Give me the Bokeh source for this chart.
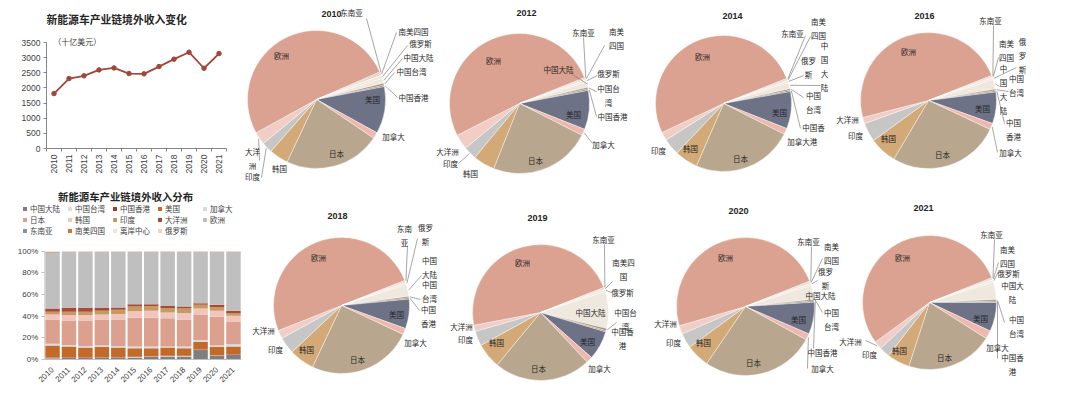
import math
from bokeh.plotting import figure
from bokeh.layouts import row, column
from bokeh.models import (ColumnDataSource, Range1d, FixedTicker, Legend, LegendItem,
                          Label, PrintfTickFormatter)
from bokeh.core.properties import value
from bokeh.embed import file_html
from bokeh.resources import INLINE

CJK = "Noto Sans CJK SC"
NUM = "Liberation Sans"
TXT = "#404040"
DARK = "#262626"

# ---------------- data ----------------
years = ["2010", "2011", "2012", "2013", "2014", "2015", "2016", "2017", "2018", "2019", "2020", "2021"]
revenue = [1815, 2310, 2400, 2595, 2660, 2475, 2465, 2705, 2950, 3180, 2650, 3135]  # 十亿美元

categories = ["中国大陆", "中国台湾", "中国香港", "美国", "加拿大", "日本", "韩国", "印度",
              "大洋洲", "欧洲", "东南亚", "南美四国", "离岸中心", "俄罗斯"]

china_mainland = [1.2, 1.3, 1.3, 1.5, 1.5, 1.8, 2.3, 2.8, 2.8, 8.8, 3.3, 4.3]
china_taiwan = [0.5, 0.4, 0.4, 0.4, 0.4, 0.4, 0.4, 0.4, 0.4, 0.5, 0.4, 0.4]
china_hongkong = [0.3, 0.3, 0.3, 0.3, 0.3, 0.3, 0.3, 0.3, 0.3, 0.3, 0.3, 0.3]
usa = [11.0, 10.0, 9.0, 9.3, 8.8, 8.0, 7.5, 7.5, 7.0, 6.9, 7.5, 7.0]
canada = [1.5, 1.5, 1.5, 1.5, 1.5, 1.5, 1.5, 1.0, 1.5, 1.5, 1.5, 2.0]
japan = [22.5, 22.5, 23.5, 23.5, 24.0, 26.5, 26.5, 26.0, 25.0, 23.0, 26.5, 21.0]
korea = [4.5, 5.0, 5.0, 5.0, 5.5, 6.0, 6.5, 5.5, 6.0, 6.0, 5.5, 5.5]
india = [2.5, 3.0, 3.0, 3.5, 4.0, 4.5, 4.5, 4.0, 4.0, 3.5, 3.5, 2.5]
oceania = [3.0, 3.5, 3.5, 2.5, 2.0, 2.0, 1.5, 2.0, 2.0, 1.5, 2.0, 2.0]
europe = [51.5, 51.5, 51.5, 51.5, 51.0, 48.0, 48.0, 49.5, 50.0, 47.0, 48.5, 54.0]
southeast_asia = [0.4, 0.3, 0.3, 0.3, 0.3, 0.3, 0.3, 0.3, 0.3, 0.3, 0.3, 0.3]
south_america4 = [0.3, 0.2, 0.2, 0.2, 0.2, 0.2, 0.2, 0.2, 0.2, 0.2, 0.2, 0.2]
offshore = [0.2, 0.1, 0.1, 0.1, 0.1, 0.1, 0.1, 0.1, 0.1, 0.1, 0.1, 0.1]
russia = [0.6, 0.4, 0.4, 0.4, 0.4, 0.4, 0.4, 0.4, 0.4, 0.4, 0.4, 0.4]

series = {
    "中国大陆": china_mainland, "中国台湾": china_taiwan, "中国香港": china_hongkong,
    "美国": usa, "加拿大": canada, "日本": japan, "韩国": korea, "印度": india,
    "大洋洲": oceania, "欧洲": europe, "东南亚": southeast_asia, "南美四国": south_america4,
    "离岸中心": offshore, "俄罗斯": russia,
}
pie_years = ["2010", "2012", "2014", "2016", "2018", "2019", "2020", "2021"]

# ---------------- styles ----------------
bar_colors = ["#7F7F7F", "#E6DDCF", "#9E3B2C", "#C46A28", "#D6DCE4", "#DCA08F", "#EFC5BC",
              "#C79A5F", "#A8493A", "#BFBFBF", "#8591AA", "#D0782A", "#EEE6DA", "#F4CFC2"]
pie_colors = ["#EEE8DF", "#A88D6F", "#8A7A6C", "#6E7286", "#EDB8AE", "#B8A68E", "#D3AA77",
              "#C6C6C6", "#F0CDC5", "#DCA291", "#CFCFCF", "#E0A96E", "#F2EDE6", "#F3E3D6"]

LEFT_W = 243
TOP_H = 185
BOT_H = 208

# ---------------- line chart ----------------
xi = list(range(len(years)))
p1 = figure(width=LEFT_W, height=TOP_H, x_range=Range1d(-3.567, 12.633),
            y_range=Range1d(-1221.7, 4886.8), output_backend="svg", toolbar_location=None,
            min_border=0)
p1.outline_line_color = None
p1.xgrid.visible = False
p1.ygrid.visible = False
p1.line(xi, revenue, line_color="#A0473A", line_width=1.8)
p1.scatter(xi, revenue, size=4.5, fill_color="#A0473A", line_color="#A0473A")

p1.xaxis.fixed_location = 0
p1.xaxis.bounds = (-0.5, 11.5)
p1.yaxis.fixed_location = -0.5
p1.yaxis.bounds = (0, 3500)
p1.xaxis.ticker = FixedTicker(ticks=xi, minor_ticks=[i - 0.5 for i in range(13)])
p1.xaxis.major_label_overrides = {i: y for i, y in enumerate(years)}
p1.xaxis.major_label_orientation = math.pi / 2
p1.xaxis.major_tick_out = 0
p1.xaxis.major_tick_in = 0
p1.xaxis.minor_tick_out = 3
p1.xaxis.minor_tick_in = 0
p1.xaxis.minor_tick_line_color = "#868686"
p1.yaxis.ticker = FixedTicker(ticks=[0, 500, 1000, 1500, 2000, 2500, 3000, 3500])
p1.yaxis.minor_tick_line_color = None
p1.yaxis.major_tick_out = 3
p1.yaxis.major_tick_in = 0
for ax in (p1.xaxis, p1.yaxis):
    ax.axis_line_color = "#868686"
    ax.major_tick_line_color = "#868686"
    ax.major_label_text_font = NUM
    ax.major_label_text_font_size = "8.5px"
    ax.major_label_text_color = TXT
    ax.major_label_standoff = 3

p1.add_layout(Label(x=-0.5, y=4292, text="新能源车产业链境外收入变化", text_font=CJK,
                    text_font_size="10.8px", text_font_style="bold", text_color=DARK,
                    text_baseline="middle", text_align="left"))
p1.add_layout(Label(x=-0.05, y=3530, text="（十亿美元）", text_font=CJK, text_font_size="8px",
                    text_color=TXT, text_baseline="middle", text_align="left"))

# ---------------- stacked bar chart ----------------
bsrc = ColumnDataSource(dict(x=xi, **{c: series[c] for c in categories}))
p2 = figure(width=LEFT_W, height=BOT_H, x_range=Range1d(-3.163, 11.61),
            y_range=Range1d(-31.4, 160.7), output_backend="svg", toolbar_location=None,
            min_border=0)
p2.outline_line_color = None
p2.xgrid.visible = False
p2.ygrid.visible = False
rends = p2.vbar_stack(categories, x="x", width=0.88, color=bar_colors, line_color=None, source=bsrc)

p2.xaxis.fixed_location = 0
p2.xaxis.bounds = (-0.5, 11.5)
p2.yaxis.fixed_location = -0.5
p2.yaxis.bounds = (0, 100)
p2.xaxis.ticker = FixedTicker(ticks=xi)
p2.xaxis.major_label_overrides = {i: y for i, y in enumerate(years)}
p2.xaxis.major_label_orientation = math.pi / 4
p2.xaxis.major_tick_line_color = None
p2.xaxis.minor_tick_line_color = None
p2.xaxis.axis_line_color = "#BFBFBF"
p2.yaxis.ticker = FixedTicker(ticks=[0, 20, 40, 60, 80, 100])
p2.yaxis.formatter = PrintfTickFormatter(format="%d%%")
p2.yaxis.minor_tick_line_color = None
p2.yaxis.axis_line_color = "#D9D9D9"
p2.yaxis.major_tick_line_color = "#BFBFBF"
p2.yaxis.major_tick_out = 3
p2.yaxis.major_tick_in = 0
for ax in (p2.xaxis, p2.yaxis):
    ax.major_label_text_font = NUM
    ax.major_label_text_font_size = "8px"
    ax.major_label_text_color = TXT
    ax.major_label_standoff = 3

legend = Legend(items=[LegendItem(label=c, renderers=[r]) for c, r in zip(categories, rends)],
                orientation="horizontal", ncols=5, location=(22, 157),
                label_text_font=CJK, label_text_font_size="7.5px", label_text_color=TXT,
                glyph_width=5, glyph_height=5, label_height=9, label_width=37,
                label_standoff=3, spacing=0, padding=0, margin=0, border_line_color=None,
                background_fill_alpha=0)
p2.add_layout(legend, "center")
p2.add_layout(Label(x=4.44, y=150.5, text="新能源车产业链境外收入分布", text_font=CJK,
                    text_font_size="10.4px", text_font_style="bold", text_color=DARK,
                    text_baseline="middle", text_align="center"))

# ---------------- pies ----------------
X0, X1, Y1 = 243, 1080, 393
PW, PH = X1 - X0, Y1
THETA0 = math.radians(18)

pf = figure(width=PW, height=PH, x_range=Range1d(X0, X1), y_range=Range1d(-Y1, 0),
            x_axis_type=None, y_axis_type=None, output_backend="svg",
            toolbar_location=None, min_border=0)
pf.outline_line_color = None

# layout of each pie: centre, radius, title position, labels (category, text, x, y, leader start)
pie_layout = {
    "2010": dict(c=(316, 99), r=69, t=(331, 13), labels=[
        ("东南亚", "东南亚", 351, 12, (366, 18)),
        ("南美四国", "南美四国", 413, 31, (396, 32)),
        ("俄罗斯", "俄罗斯", 420, 43, (407, 45)),
        ("中国大陆", "中国大陆", 418, 57, (402, 58)),
        ("中国台湾", "中国台湾", 411, 71, (394, 72)),
        ("中国香港", "中国香港", 413, 97, (397, 97)),
        ("美国", "美国", 372, 99, None),
        ("加拿大", "加拿大", 393, 136, None),
        ("日本", "日本", 336, 153, None),
        ("韩国", "韩国", 279, 168, None),
        ("印度", "印度", 252, 176, (261, 177)),
        ("大洋洲", "大洋\n洲", 252, 158, (259, 160)),
        ("欧洲", "欧洲", 281, 55, None)]),
    "2012": dict(c=(519, 103), r=70, t=(526, 12), labels=[
        ("东南亚", "东南亚", 583, 32, (583, 37)),
        ("南美四国", "南美\n四国", 616, 38, (604, 45)),
        ("中国大陆", "中国大陆", 558, 69, (572, 74)),
        ("俄罗斯", "俄罗斯", 608, 73, (597, 75)),
        ("中国台湾", "中国台\n湾", 608, 95, (596, 91)),
        ("中国香港", "中国香港", 612, 116, (596, 116)),
        ("美国", "美国", 573, 114, None),
        ("加拿大", "加拿大", 603, 144, (592, 143)),
        ("日本", "日本", 535, 160, None),
        ("韩国", "韩国", 470, 173, None),
        ("印度", "印度", 450, 163, (458, 163)),
        ("大洋洲", "大洋洲", 447, 151, None),
        ("欧洲", "欧洲", 493, 60, None)]),
    "2014": dict(c=(723, 103), r=68, t=(732, 15), labels=[
        ("东南亚", "东南亚", 792, 33, (805, 35)),
        ("南美四国", "南美\n四国", 818, 28, (810, 36)),
        ("俄罗斯", "俄罗\n斯", 808, 67, (803, 75)),
        ("中国大陆", "中\n国\n大\n陆", 824, 66, (820, 85)),
        ("中国台湾", "中国\n台湾", 813, 102, (803, 97)),
        ("中国香港", "中国香\n港", 813, 134, (800, 128)),
        ("美国", "美国", 779, 112, None),
        ("加拿大", "加拿大", 798, 141, None),
        ("日本", "日本", 740, 158, None),
        ("韩国", "韩国", 690, 148, None),
        ("印度", "印度", 658, 150, None),
        ("欧洲", "欧洲", 702, 56, None)]),
    "2016": dict(c=(928, 100), r=68, t=(924, 15), labels=[
        ("东南亚", "东南亚", 990, 20, (993, 25)),
        ("南美四国", "南美\n四国", 1006, 50, (998, 57)),
        ("俄罗斯", "俄\n罗\n斯", 1022, 55, (1016, 67)),
        ("中国大陆", "中\n国\n大\n陆", 1003, 89, (999, 86)),
        ("中国台湾", "中国\n台湾", 1016, 85, (1008, 91)),
        ("中国香港", "中国\n香港", 1013, 129, (1004, 123)),
        ("美国", "美国", 982, 108, None),
        ("加拿大", "加拿大", 1010, 152, (997, 152)),
        ("日本", "日本", 942, 154, None),
        ("韩国", "韩国", 888, 138, None),
        ("印度", "印度", 855, 135, None),
        ("大洋洲", "大洋洲", 847, 119, None),
        ("欧洲", "欧洲", 908, 51, None)]),
    "2018": dict(c=(341, 305), r=68, t=(337, 215), labels=[
        ("东南亚", "东南\n亚", 404, 235, (407, 245)),
        ("俄罗斯", "俄罗\n斯", 425, 234, (417, 238)),
        ("中国大陆", "中国\n大陆", 429, 267, (421, 275)),
        ("中国台湾", "中国\n台湾", 429, 291, (420, 299)),
        ("中国香港", "中国\n香港", 428, 316, (419, 310)),
        ("美国", "美国", 396, 314, None),
        ("加拿大", "加拿大", 415, 342, None),
        ("日本", "日本", 357, 359, None),
        ("韩国", "韩国", 306, 349, None),
        ("印度", "印度", 275, 349, None),
        ("大洋洲", "大洋洲", 263, 330, None),
        ("欧洲", "欧洲", 318, 257, None)]),
    "2019": dict(c=(540, 312), r=68, t=(537, 217), labels=[
        ("东南亚", "东南亚", 603, 239, (604, 244)),
        ("南美四国", "南美四\n国", 623, 269, (612, 281)),
        ("俄罗斯", "俄罗斯", 622, 292, (611, 292)),
        ("中国大陆", "中国大陆", 590, 312, None),
        ("中国台湾", "中国台\n湾", 625, 319, (616, 322)),
        ("中国香港", "中国香\n港", 622, 338, None),
        ("美国", "美国", 587, 341, None),
        ("加拿大", "加拿大", 599, 368, None),
        ("日本", "日本", 538, 368, None),
        ("韩国", "韩国", 496, 342, None),
        ("印度", "印度", 465, 339, None),
        ("大洋洲", "大洋洲", 461, 326, None),
        ("欧洲", "欧洲", 522, 262, None)]),
    "2020": dict(c=(745, 306), r=69, t=(738, 210), labels=[
        ("东南亚", "东南亚", 808, 241, (811, 246)),
        ("南美四国", "南美\n四国", 831, 253, (822, 258)),
        ("俄罗斯", "俄罗\n斯", 825, 278, (817, 280)),
        ("中国大陆", "中国大陆", 820, 295, None),
        ("中国台湾", "中国\n台湾", 831, 319, (822, 312)),
        ("中国香港", "中国香港", 822, 352, (813, 348)),
        ("美国", "美国", 798, 319, None),
        ("加拿大", "加拿大", 822, 368, (807, 368)),
        ("日本", "日本", 753, 362, None),
        ("韩国", "韩国", 703, 342, None),
        ("印度", "印度", 673, 342, None),
        ("大洋洲", "大洋洲", 665, 323, None),
        ("欧洲", "欧洲", 725, 257, None)]),
    "2021": dict(c=(929, 302), r=67, t=(923, 207), labels=[
        ("东南亚", "东南亚", 991, 234, (994, 239)),
        ("南美四国", "南美\n四国", 1007, 256, (998, 262)),
        ("俄罗斯", "俄罗斯", 1008, 273, (997, 273)),
        ("中国大陆", "中国大\n陆", 1012, 292, None),
        ("中国台湾", "中国\n台湾", 1016, 326, (1004, 322)),
        ("中国香港", "中国香\n港", 1012, 364, (997, 358)),
        ("美国", "美国", 980, 318, None),
        ("加拿大", "加拿大", 997, 347, None),
        ("日本", "日本", 944, 357, None),
        ("韩国", "韩国", 899, 350, None),
        ("印度", "印度", 869, 354, None),
        ("大洋洲", "大洋洲", 850, 341, (865, 340)),
        ("欧洲", "欧洲", 902, 257, None)]),
}

title_x, title_y, title_t = [], [], []
lab_x, lab_y, lab_t = [], [], []
lead_xs, lead_ys = [], []
for yr in pie_years:
    lay = pie_layout[yr]
    cx, cy = lay["c"]
    rpx = lay["r"]
    yi = years.index(yr)
    vals = [series[c][yi] for c in categories]
    tot = sum(vals)
    starts, ends, mids = [], [], []
    cum = 0.0
    for v in vals:
        e = THETA0 - cum / tot * 2 * math.pi
        cum += v
        s = THETA0 - cum / tot * 2 * math.pi
        starts.append(s)
        ends.append(e)
        mids.append((s + e) / 2)
    src = ColumnDataSource(dict(x=[cx] * len(vals), y=[-cy] * len(vals), s=starts, e=ends,
                                c=pie_colors))
    pf.wedge(x="x", y="y", radius=rpx, radius_units="screen", start_angle="s", end_angle="e",
             fill_color="c", line_color="white", line_width=0.4, source=src)
    title_x.append(lay["t"][0])
    title_y.append(-lay["t"][1])
    title_t.append(yr)
    for cat, txt, lx, ly, lead in lay["labels"]:
        lab_x.append(lx)
        lab_y.append(-ly)
        lab_t.append(txt)
        if lead is not None:
            m = mids[categories.index(cat)]
            ex = cx + (rpx + 1) * math.cos(m)
            ey = -cy + (rpx + 1) * math.sin(m)
            lead_xs.append([lead[0], ex])
            lead_ys.append([-lead[1], ey])

pf.multi_line(xs=lead_xs, ys=lead_ys, line_color="#7F7F7F", line_width=0.7)
pf.text(x=lab_x, y=lab_y, text=lab_t, text_font=value(CJK), text_font_size=value("7.5px"),
        text_color=DARK, text_align="center", text_baseline="middle", text_line_height=1.25)
pf.text(x=title_x, y=title_y, text=title_t, text_font=value(NUM), text_font_size=value("9px"),
        text_font_style="bold", text_color=DARK, text_align="center", text_baseline="middle")

layout = row(column(p1, p2), pf)
open("out.html", "w").write(file_html(layout, INLINE))
